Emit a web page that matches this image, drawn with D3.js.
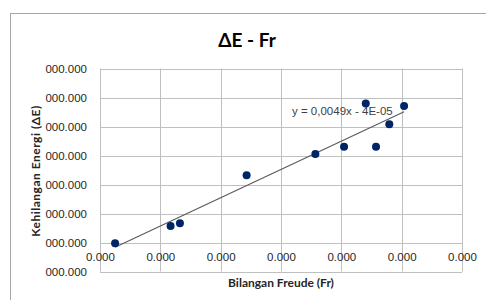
<!DOCTYPE html>
<html>
<head>
<meta charset="utf-8">
<script src="https://cdn.jsdelivr.net/npm/d3@7"></script>
<style>
html,body{margin:0;padding:0;background:#fff;}
svg{display:block;}
</style>
</head>
<body>
<svg id="chart" width="486" height="300"></svg>
<script>
// Data
const froude = [0.00750, 0.00934, 0.00965, 0.01186, 0.01414, 0.01509, 0.01581, 0.01615, 0.01659, 0.01708];
const energyLoss = [-0.0000003, 0.0000057, 0.0000066, 0.0000232, 0.0000305, 0.0000330, 0.0000479, 0.0000330, 0.0000408, 0.0000471];
const xTicks = [0.007, 0.009, 0.011, 0.013, 0.015, 0.017, 0.019];
const yTicks = [-0.00001, 0, 0.00001, 0.00002, 0.00003, 0.00004, 0.00005, 0.00006];
const xTickLabel = "0.000";
const yTickLabel = "000.000";
const titleText = "ΔE - Fr";
const xTitle = "Bilangan Freude (Fr)";
const yTitle = "Kehilangan Energi (ΔE)";
const trendLabel = "y = 0,0049x - 4E-05";

const svg = d3.select("#chart");
const plot = {left: 100, right: 462, top: 68.5, bottom: 271.5};

const x = d3.scaleLinear().domain([xTicks[0], xTicks[xTicks.length-1]]).range([plot.left, plot.right]);
const y = d3.scaleLinear().domain([yTicks[0], yTicks[yTicks.length-1]]).range([plot.bottom, plot.top]);

// chart area border
svg.append("rect").attr("x", 10.5).attr("y", 13.5).attr("width", 480).attr("height", 300)
  .attr("fill", "#fff").attr("stroke", "#a6a6a6").attr("stroke-width", 1);

const gridColor = "#bfbfbf";
// vertical gridlines
svg.append("g").selectAll("line").data(xTicks).join("line")
  .attr("x1", d => Math.round(x(d)) + 0.5).attr("x2", d => Math.round(x(d)) + 0.5)
  .attr("y1", plot.top).attr("y2", plot.bottom)
  .attr("stroke", gridColor).attr("stroke-width", 1);
// horizontal gridlines
svg.append("g").selectAll("line").data(yTicks).join("line")
  .attr("x1", plot.left).attr("x2", plot.right)
  .attr("y1", d => Math.round(y(d)) + 0.5).attr("y2", d => Math.round(y(d)) + 0.5)
  .attr("stroke", gridColor).attr("stroke-width", 1);

// Y axis labels
const yAxis = d3.axisLeft(y).tickValues(yTicks).tickFormat(() => yTickLabel).tickSize(0).tickPadding(13);
const gy = svg.append("g").attr("transform", `translate(${plot.left},0)`).call(yAxis);
gy.select(".domain").remove();
gy.selectAll("text").attr("font-family", "'Liberation Sans', Arial, sans-serif").attr("font-size", "11.5px").attr("fill", "#262626");

// X axis at y=0
const xAxis = d3.axisBottom(x).tickValues(xTicks).tickFormat(() => xTickLabel).tickSize(0).tickPadding(9);
const gx = svg.append("g").attr("transform", `translate(0,${Math.round(y(0)) + 0.5})`).call(xAxis);
gx.select(".domain").remove();
gx.selectAll("text").attr("font-family", "'Liberation Sans', Arial, sans-serif").attr("font-size", "11.5px").attr("fill", "#262626");

// Linear regression trendline
const n = froude.length;
const mx = d3.mean(froude), my = d3.mean(energyLoss);
let sxy = 0, sxx = 0;
for (let i = 0; i < n; i++) { sxy += (froude[i]-mx)*(energyLoss[i]-my); sxx += (froude[i]-mx)**2; }
const slope = sxy / sxx, intercept = my - slope * mx;
const [xmin, xmax] = d3.extent(froude);
svg.append("line")
  .attr("x1", x(xmin)).attr("y1", y(slope*xmin + intercept))
  .attr("x2", x(xmax)).attr("y2", y(slope*xmax + intercept))
  .attr("stroke", "#595959").attr("stroke-width", 1.1);

// points
svg.append("g").selectAll("circle").data(froude).join("circle")
  .attr("cx", (d) => x(d)).attr("cy", (d, i) => y(energyLoss[i])).attr("r", 4)
  .attr("fill", "#002566");

// trendline label
svg.append("text").attr("x", 292).attr("y", 115)
  .attr("font-family", "'Liberation Sans', Arial, sans-serif").attr("font-size", "11.5px").attr("fill", "#404040")
  .text(trendLabel);

// title
svg.append("text").attr("x", 247).attr("y", 46.5).attr("text-anchor", "middle")
  .attr("font-family", "Lato, 'Open Sans', sans-serif").attr("font-weight", "bold").attr("font-size", "19px").attr("fill", "#000")
  .text(titleText);

// axis titles
svg.append("text").attr("x", (plot.left+plot.right)/2).attr("y", 287).attr("text-anchor", "middle")
  .attr("font-family", "Lato, 'Open Sans', sans-serif").attr("font-weight", "bold").attr("font-size", "12px").attr("fill", "#262626")
  .text(xTitle);
svg.append("text").attr("transform", `translate(39.5,171) rotate(-90)`).attr("text-anchor", "middle")
  .attr("font-family", "Lato, 'Open Sans', sans-serif").attr("font-weight", "bold").attr("font-size", "12px").attr("fill", "#262626")
  .attr("letter-spacing", "0.5px")
  .text(yTitle);
</script>
</body>
</html>
